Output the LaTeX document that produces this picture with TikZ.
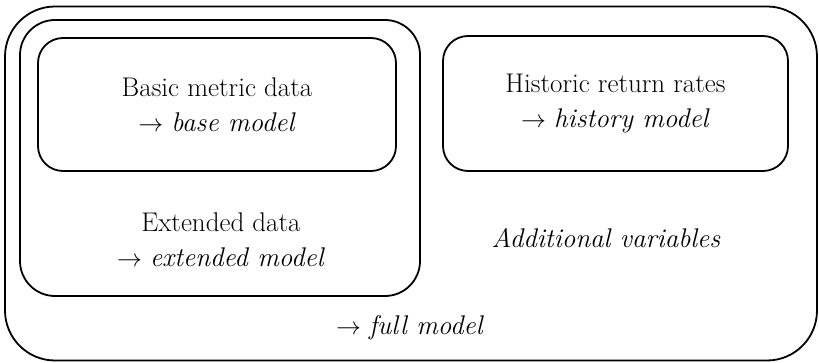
\documentclass[tikz,border=0pt]{standalone}
\usepackage{fontspec}
\begin{document}
\begin{tikzpicture}[x=1pt,y=-1pt]
	\tikzstyle{frame}=[draw=black,line width=1.8pt,rounded corners=25pt,inner sep=0pt,align=center]
	\tikzstyle{label}=[inner sep=0pt,align=center,font=\fontsize{27}{35}\selectfont]
	\useasboundingbox (0,0) rectangle (819,363);
	\begin{scope}
		\node [frame,rounded corners=50pt,minimum width=812pt,minimum height=354pt] (full) at (411,183.5) {};
		\node [frame,rounded corners=35pt,minimum width=400pt,minimum height=276pt] (ext) at (220,158) {};
		\node [frame,minimum width=358pt,minimum height=133pt] (base) at (217,104.5) {};
		\node [frame,minimum width=345pt,minimum height=135pt] (hist) at (615.5,103.5) {};
		\node [label] (basetxt) at (base) {Basic metric data\\$\rightarrow$ \textit{base model}};
		\node [label] (histtxt) at (hist) {Historic return rates\\$\rightarrow$ \textit{history model}};
		\node [label] (exttxt) at (221,240) {Extended data\\$\rightarrow$ \textit{extended model}};
		\node [label] (addtxt) at (606,238) {\textit{Additional variables}};
		\node [label] (fulltxt) at (410,328) {$\rightarrow$ \textit{full model}};
	\end{scope}
\end{tikzpicture}
\end{document}
